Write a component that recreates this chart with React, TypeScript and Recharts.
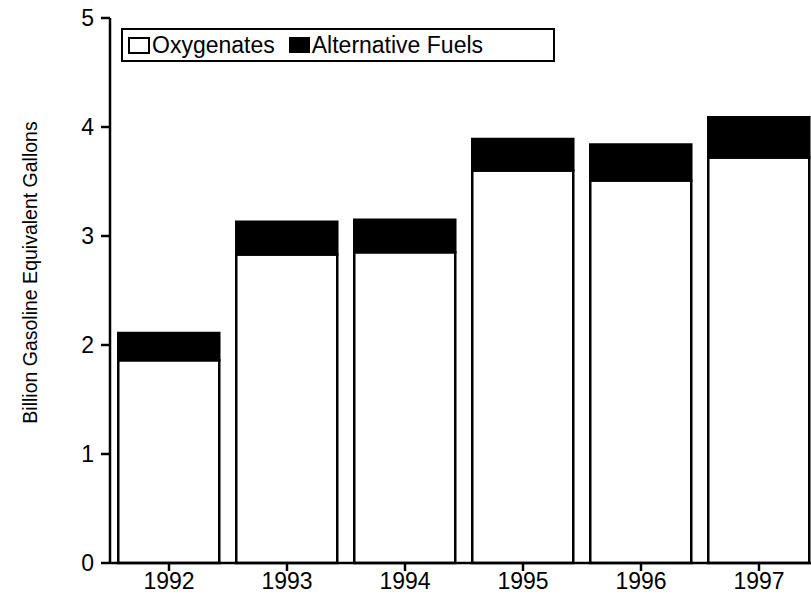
import React from "react";
import { Bar, BarChart, XAxis, YAxis } from "recharts";

// values (billion gasoline-equivalent gallons)
const years = ["1992", "1993", "1994", "1995", "1996", "1997"];
const oxygenates = [1.86, 2.83, 2.85, 3.6, 3.51, 3.72];
const alternativeFuels = [0.25, 0.3, 0.3, 0.29, 0.33, 0.37];
const yTicks = [0, 1, 2, 3, 4, 5];

const data = years.map((year, i) => ({
  year,
  oxygenates: oxygenates[i],
  alternative: alternativeFuels[i],
}));

const FONT = "'Liberation Sans', Arial, Helvetica, sans-serif";
const INK = "#000";

function ChartLegend() {
  return (
    <div
      style={{
        position: "absolute",
        left: 121,
        top: 28,
        display: "flex",
        alignItems: "center",
        width: 430,
        height: 30,
        border: `2px solid ${INK}`,
        background: "#fff",
        fontFamily: FONT,
        fontSize: 23,
        color: INK,
        boxSizing: "content-box",
      }}
    >
      <span
        style={{
          display: "inline-block",
          width: 18,
          height: 13,
          border: `2px solid ${INK}`,
          marginLeft: 5,
          marginRight: 2,
        }}
      />
      <span>Oxygenates</span>
      <span
        style={{
          display: "inline-block",
          width: 21,
          height: 16,
          background: INK,
          marginLeft: 14,
          marginRight: 2,
        }}
      />
      <span>Alternative Fuels</span>
    </div>
  );
}

function YLabel(props: any) {
  const vb = props.viewBox || { x: 0, y: 18, width: 110, height: 545 };
  const cx = 30;
  const cy = vb.y + vb.height / 2 - 18;
  return (
    <text
      x={cx}
      y={cy}
      transform={`rotate(-90 ${cx} ${cy})`}
      textAnchor="middle"
      dominantBaseline="central"
      fill={INK}
      fontSize={19.5}
      fontFamily={FONT}
    >
      Billion Gasoline Equivalent Gallons
    </text>
  );
}

export default function App() {
  return (
    <div
      style={{
        position: "absolute",
        left: 0,
        top: 0,
        width: 811,
        height: 602,
        overflow: "hidden",
        background: "#fff",
      }}
    >
      <BarChart
        width={832}
        height={602}
        data={data}
        margin={{ top: 18, right: 14, left: 0, bottom: 6 }}
        barCategoryGap="7%"
      >
        <XAxis
          dataKey="year"
          height={33}
          tick={{ fill: INK, fontSize: 23, fontFamily: FONT }}
          tickSize={8}
          tickMargin={2}
          axisLine={{ stroke: INK, strokeWidth: 2.5 }}
          tickLine={{ stroke: INK, strokeWidth: 2.5 }}
        />
        <YAxis
          width={110}
          domain={[0, 5]}
          ticks={yTicks}
          interval={0}
          tick={{ fill: INK, fontSize: 23, fontFamily: FONT }}
          tickSize={9}
          tickMargin={7}
          axisLine={{ stroke: INK, strokeWidth: 2.5 }}
          tickLine={{ stroke: INK, strokeWidth: 2.5 }}
          label={<YLabel />}
        />
        <Bar
          dataKey="oxygenates"
          stackId="fuel"
          fill="#fff"
          stroke={INK}
          strokeWidth={2.5}
          name="Oxygenates"
          isAnimationActive={false}
        />
        <Bar
          dataKey="alternative"
          stackId="fuel"
          fill={INK}
          stroke={INK}
          strokeWidth={2.5}
          name="Alternative Fuels"
          isAnimationActive={false}
        />
      </BarChart>
      <ChartLegend />
    </div>
  );
}
